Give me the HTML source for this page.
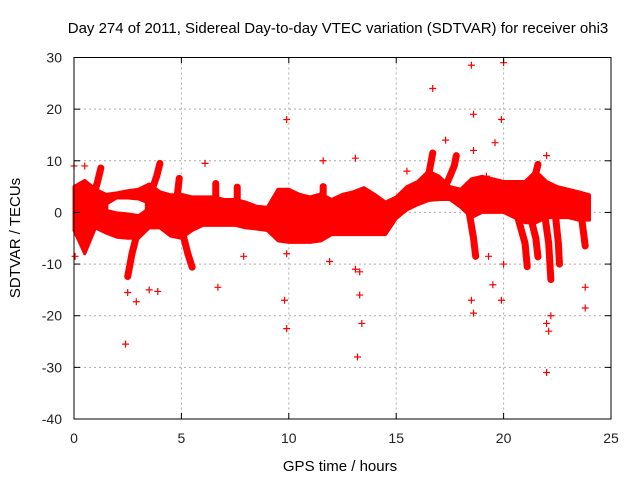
<!DOCTYPE html>
<html><head><meta charset="utf-8"><style>
body{margin:0;background:#fff}
svg{display:block;font-family:"Liberation Sans",sans-serif}
</style></head><body>
<svg id="chart" width="640" height="480">
<rect x="0" y="0" width="640" height="480" fill="#fff"/>
<text x="338" y="33" font-size="15" text-anchor="middle">Day 274 of 2011, Sidereal Day-to-day VTEC variation (SDTVAR) for receiver ohi3</text>
<g id="grid"></g><g id="data"></g><g id="axes"></g>
<text x="340" y="471" font-size="15" text-anchor="middle">GPS time / hours</text>
<text transform="translate(20,238) rotate(-90)" font-size="15" text-anchor="middle">SDTVAR / TECUs</text>
</svg>
<script>
const xTicks=[0,5,10,15,20,25];
const yTicks=[30,20,10,0,-10,-20,-30,-40];
const mainT=[0,0.5,1,1.5,2,2.5,3,3.5,4,4.5,5,5.5,6,6.5,7,7.5,8,8.5,9,9.5,10,10.5,11,11.5,12,12.5,13,13.5,14,14.5,15,15.5,16,16.5,17,17.5,18,18.5,19,19.5,20,20.5,21,21.5,22,22.5,23,23.5,24];
const mainHi=[5,6.2,4.5,3.5,3.8,4.2,4.5,5.5,4,3.4,3.5,3,3,3,2.5,2.5,2,1.2,1,4.5,4.5,3.5,3,3.6,2.5,3.5,4,4.8,3.5,2,3,5,6,8,7,5,4.5,6.5,7,6.5,6,6,6,8,6,5,4.5,4,3.4];
const mainLo=[-3.5,-8,-3,-4,-4.8,-5,-5,-3,-3,-4.6,-5,-3.5,-2.5,-2.5,-2.5,-2.5,-3,-3.2,-3.5,-5.5,-5.8,-5.8,-5.8,-5.5,-4.3,-4.3,-4.3,-4.3,-4.3,-4.3,-1.2,0.5,1.5,2.3,2.5,2.5,1,-1,0,0,0,-1,-2,-2,-1,-1,-1,-1.5,-1.5];
const holeT=[1.6,2.0,2.5,3.0,3.3];
const holeHi=[1.5,2.5,2.5,2.3,1.8];
const holeLo=[0.6,0.2,0,-0.3,0.6];
const tracks=[
 [[0.9,3],[1.1,6],[1.25,8.6]],
 [[3.0,-3],[2.7,-8],[2.5,-12.4]],
 [[3.6,4],[3.85,7],[4.0,9.5]],
 [[4.8,3],[4.9,6.6]],
 [[5.0,-3],[5.3,-8],[5.5,-10.6]],
 [[6.6,2],[6.6,5.6]],
 [[7.6,2],[7.6,4.9]],
 [[11.6,3],[11.6,5]],
 [[16.5,7],[16.7,11.5]],
 [[17.4,6],[17.7,9],[17.8,11]],
 [[18.4,0],[18.6,-5],[18.7,-8.5]],
 [[20.6,0],[21.0,-6],[21.1,-10.5]],
 [[21.2,0],[21.5,-5],[21.6,-8.6]],
 [[21.9,0],[22.1,-6],[22.2,-13]],
 [[22.4,0],[22.55,-6],[22.6,-10]],
 [[23.6,0],[23.8,-6.5]],
 [[21.4,6],[21.6,9.3]]
];
const outT=[2.4,16.7,18.5,18.6,20,19.9,9.9,13.2,22,23.8,22.1,22,9.9,9.8,13.4,13.3,6.7,3.9,3.5,2.9,2.5,18.5,18.6,19.9,19.5,23.8,22.2,13.1,13.3,11.6,13.1,0.5,15.5,22,7.9,19.3,20,19.2,19.6,18.6,17.3,9.9,11.9,6.1,0,0.05];
const outV=[-25.5,24,28.5,19,29,18,18,-28,-31,-18.5,-23,-21.5,-22.5,-17,-21.5,-16,-14.5,-15.3,-15,-17.3,-15.5,-17,-19.5,-17,-14,-14.5,-20,-11,-11.5,10,10.5,9,8,11,-8.5,-8.5,-10,7,13.5,12,14,-8,-9.5,9.5,9,-8.5];

const X=t=>74+t*(611-74)/25;
const Y=v=>57.5+(30-v)*(419-57.5)/70;
const NS="http://www.w3.org/2000/svg";
function mk(tag,attrs,parent){const e=document.createElementNS(NS,tag);for(const k in attrs)e.setAttribute(k,attrs[k]);parent.appendChild(e);return e;}
const grid=document.getElementById('grid'),data=document.getElementById('data'),axes=document.getElementById('axes');
xTicks.forEach(t=>{
  if(t>0&&t<25){const g=mk('line',{x1:X(t),x2:X(t),y1:57.5,y2:419,stroke:'#aaa','stroke-dasharray':'2,3'},grid);
  
  }
  const l=mk('text',{x:X(t),y:443,'font-size':14,'text-anchor':'middle',fill:'#222'},axes);l.textContent=t;
  
  
  mk('line',{x1:X(t),x2:X(t),y1:419,y2:413,stroke:'#000'},axes);
  mk('line',{x1:X(t),x2:X(t),y1:57.5,y2:63,stroke:'#000'},axes);
});
yTicks.forEach(v=>{
  if(v<30&&v>-40){const g=mk('line',{x1:74,x2:611,y1:Y(v),y2:Y(v),stroke:'#aaa','stroke-dasharray':'2,3'},grid);
  
  }
  const l=mk('text',{x:62,y:Y(v)+5,'font-size':14,'text-anchor':'end',fill:'#222'},axes);l.textContent=v;
  
  
  mk('line',{x1:74,x2:80,y1:Y(v),y2:Y(v),stroke:'#000'},axes);
  mk('line',{x1:611,x2:605,y1:Y(v),y2:Y(v),stroke:'#000'},axes);
});
const frame=mk('rect',{x:74,y:57.5,width:537,height:361.5,fill:'none',stroke:'#000'},axes);


function bandPts(T,H,L){let p=T.map((t,i)=>X(t)+','+Y(H[i]));for(let i=T.length-1;i>=0;i--)p.push(X(T[i])+','+Y(L[i]));return p.join(' ');}
const band=mk('polygon',{points:bandPts(mainT,mainHi,mainLo),fill:'#f00',stroke:'#f00','stroke-width':3,'stroke-linejoin':'round'},data);


const hole=mk('polygon',{points:bandPts(holeT,holeHi,holeLo),fill:'#fff'},data);


tracks.forEach(tr=>{
  const p=mk('polyline',{points:tr.map(d=>X(d[0])+','+Y(d[1])).join(' '),fill:'none',stroke:'#f00','stroke-width':7,'stroke-linecap':'round','stroke-linejoin':'round'},data);
  
  
});
outT.forEach((t,i)=>{
  const x=X(t),y=Y(outV[i]);
  const p=mk('path',{d:`M${x-3.5},${y}H${x+3.5}M${x},${y-3.5}V${y+3.5}`,stroke:'#f00','stroke-width':1.2},data);
  
  
});
</script>
</body></html>
